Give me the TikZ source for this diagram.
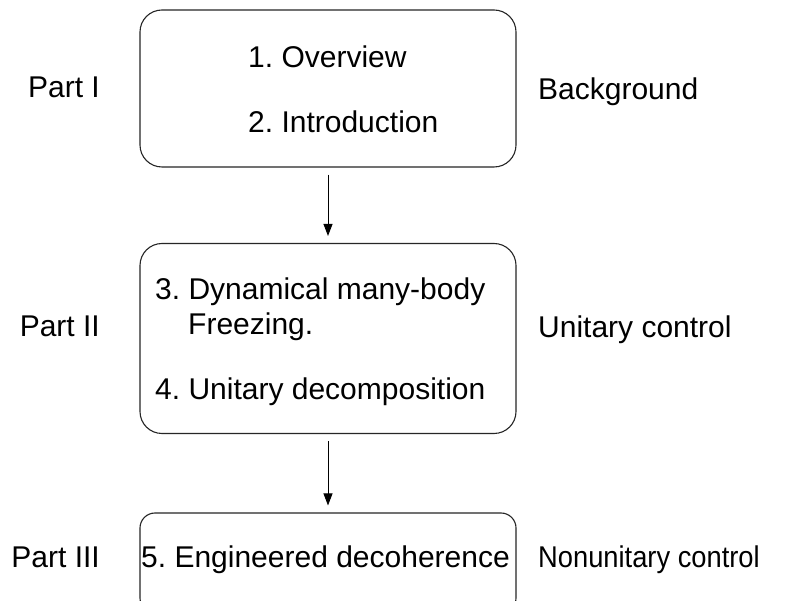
\documentclass[tikz,border=0pt]{standalone}
\usepackage{fontspec}
\setmainfont{Liberation Sans}
\usetikzlibrary{arrows.meta}
\begin{document}
\frenchspacing
\begin{tikzpicture}[x=1pt,y=-1pt,
  txt/.style={font=\fontsize{30}{35}\selectfont\frenchspacing, inner sep=0pt, text=black},
  box/.style={draw=black!85, line width=1.1pt, rounded corners=22pt, minimum width=376pt, inner sep=0pt},
  arr/.style={draw=black, line width=0.9pt, -{Triangle[length=12pt,width=9pt]}, shorten <=7pt, shorten >=7pt}]
\clip (0,0) rectangle (785,601);
\fill[white] (0,0) rectangle (785,601);
% boxes
\node[box, minimum height=157pt] (b1) at (328,88.5) {};
\node[box, minimum height=190pt] (b2) at (328,338.5) {};
\node[box, minimum height=100pt, rounded corners=15pt] (b3) at (328,563) {};
% box texts
\node[txt, anchor=base west] (t1) at (248,68) {1. Overview};
\node[txt, anchor=base west] (t2) at (248,133) {2. Introduction};
\node[txt, anchor=base west] (t3) at (155,300) {3. Dynamical many-body};
\node[txt, anchor=base west] (t3b) at (188,335) {Freezing.};
\node[txt, anchor=base west] (t4) at (155,400) {4. Unitary decomposition};
\node[txt, anchor=base west] (t5) at (141,567) {5. Engineered decoherence};
% side labels
\node[txt, anchor=base east] (p1) at (100,98) {Part I};
\node[txt, anchor=base east] (p2) at (100,337) {Part II};
\node[txt, anchor=base east] (p3) at (100,567) {Part III};
\node[txt, anchor=base west] (r1) at (538,100) {Background};
\node[txt, anchor=base west] (r2) at (538,338) {Unitary control};
\node[txt, anchor=base west] (r3) at (538,567) {\scalebox{0.91}[1]{Nonunitary control}};
% arrows
\draw[arr] (b1.south) -- (b2.north);
\draw[arr] (b2.south) -- (b3.north);
\end{tikzpicture}
\end{document}
